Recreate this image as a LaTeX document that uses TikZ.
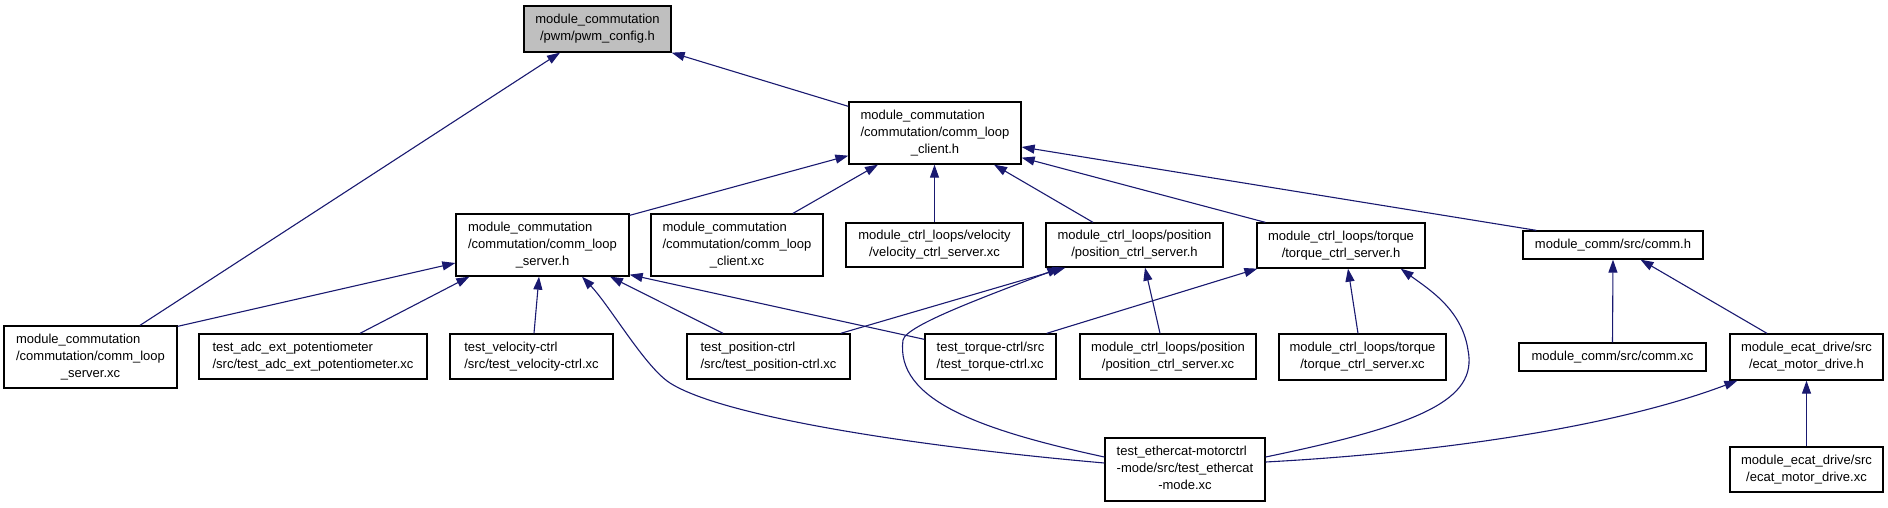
\documentclass[tikz,border=0pt]{standalone}
\usepackage{fontspec}
\setmainfont{Liberation Sans}
\usetikzlibrary{arrows.meta,calc}
\definecolor{edgeblue}{HTML}{191970}
\definecolor{pwmgray}{HTML}{BFBFBF}
\newcommand{\Lc}[1]{\begin{tabular}{@{}l@{}}#1\end{tabular}}
\newcommand{\Cc}[1]{\begin{tabular}{@{}c@{}}#1\end{tabular}}
\newcommand{\LLC}[3]{\begin{tabular}{@{}l@{}}#1\\#2\\\multicolumn{1}{@{}c@{}}{#3}\end{tabular}}
\tikzset{
  box/.style={draw=black, line width=1.3pt, fill=white, inner sep=0pt, text=black,
              font=\fontsize{13}{17}\selectfont},
  edge/.style={draw=edgeblue, line width=1.1pt, -{Triangle[length=13pt,width=9pt]}}
}
\begin{document}
\begin{tikzpicture}[x=1pt,y=-1pt]
\useasboundingbox (0,0) rectangle (1888,507);
% nodes
\node[box, fill=pwmgray, minimum width=147pt, minimum height=46pt] (pwm) at (597.5,29) {\Cc{module\_commutation\\/pwm/pwm\_config.h}};
\node[box, minimum width=172pt, minimum height=62pt] (clienth) at (935,133) {\LLC{module\_commutation}{/commutation/comm\_loop}{\_client.h}};
\node[box, minimum width=173pt, minimum height=62pt] (serverh) at (542.5,245) {\LLC{module\_commutation}{/commutation/comm\_loop}{\_server.h}};
\node[box, minimum width=172pt, minimum height=62pt] (clientxc) at (737,245) {\LLC{module\_commutation}{/commutation/comm\_loop}{\_client.xc}};
\node[box, minimum width=177pt, minimum height=44pt] (velsrv) at (934.5,245) {\Cc{module\_ctrl\_loops/velocity\\/velocity\_ctrl\_server.xc}};
\node[box, minimum width=177pt, minimum height=44pt] (possrvh) at (1134.5,245) {\Cc{module\_ctrl\_loops/position\\/position\_ctrl\_server.h}};
\node[box, minimum width=168pt, minimum height=45pt] (torsrvh) at (1341,245.5) {\Cc{module\_ctrl\_loops/torque\\/torque\_ctrl\_server.h}};
\node[box, minimum width=180pt, minimum height=28pt] (commh) at (1613,245) {\Cc{module\_comm/src/comm.h}};
\node[box, minimum width=173pt, minimum height=62pt] (serverxc) at (90.5,357) {\LLC{module\_commutation}{/commutation/comm\_loop}{\_server.xc}};
\node[box, minimum width=228pt, minimum height=45pt] (adc) at (313,356.5) {\Lc{test\_adc\_ext\_potentiometer\\/src/test\_adc\_ext\_potentiometer.xc}};
\node[box, minimum width=163pt, minimum height=45pt] (velctrl) at (531.5,356.5) {\Lc{test\_velocity-ctrl\\/src/test\_velocity-ctrl.xc}};
\node[box, minimum width=163pt, minimum height=45pt] (posctrl) at (768.5,356.5) {\Lc{test\_position-ctrl\\/src/test\_position-ctrl.xc}};
\node[box, minimum width=131pt, minimum height=45pt] (torctrl) at (990.5,356.5) {\Lc{test\_torque-ctrl/src\\/test\_torque-ctrl.xc}};
\node[box, minimum width=176pt, minimum height=45pt] (possrvxc) at (1168,356.5) {\Cc{module\_ctrl\_loops/position\\/position\_ctrl\_server.xc}};
\node[box, minimum width=167pt, minimum height=46pt] (torsrvxc) at (1362.5,357) {\Cc{module\_ctrl\_loops/torque\\/torque\_ctrl\_server.xc}};
\node[box, minimum width=187pt, minimum height=28pt] (commxc) at (1612.5,357) {\Cc{module\_comm/src/comm.xc}};
\node[box, minimum width=153pt, minimum height=46pt] (ecath) at (1806.5,357) {\Cc{module\_ecat\_drive/src\\/ecat\_motor\_drive.h}};
\node[box, minimum width=160pt, minimum height=63pt] (ethercat) at (1185,469.5) {\LLC{test\_ethercat-motorctrl}{-mode/src/test\_ethercat}{-mode.xc}};
\node[box, minimum width=153pt, minimum height=45pt] (ecatxc) at (1806.5,469.5) {\Cc{module\_ecat\_drive/src\\/ecat\_motor\_drive.xc}};
% edges
\draw[edge] ($(serverxc.north)+(49.5,0)$) -- ($(pwm.south)+(-37.5,0)$);
\draw[edge] ($(clienth.north west)+(0,5)$) -- (pwm.south east);
\draw[edge] ($(serverh.north east)+(0,2)$) -- ($(clienth.south west)+(0,-9)$);
\draw[edge] ($(clientxc.north)+(56,0)$) -- ($(clienth.south)+(-57,0)$);
\draw[edge] (velsrv.north) -- (velsrv.north |- clienth.south);
\draw[edge] ($(possrvh.north)+(-41.5,0)$) -- ($(clienth.south)+(59,0)$);
\draw[edge] ($(torsrvh.north west)+(9,0)$) -- ($(clienth.south east)+(0,-7)$);
\draw[edge] ($(commh.north west)+(14,0)$) -- ($(clienth.east)+(0,14)$);
\draw[edge] ($(serverxc.north east)+(0,1)$) -- ($(serverh.west)+(0,18)$);
\draw[edge] ($(adc.north)+(47,0)$) -- ($(serverh.south west)+(14,0)$);
\draw[edge] ($(velctrl.north)+(2.5,0)$) -- ($(serverh.south)+(-3.5,0)$);
\draw[edge] ($(ethercat.west)+(0,-6.5)$) .. controls (900,445) and (720,415) .. (670,383) .. controls (645,367) and (610,306) .. ($(serverh.south)+(39.5,0)$);
\draw[edge] ($(posctrl.north)+(-45.5,0)$) -- ($(serverh.south)+(67.5,0)$);
\draw[edge] ($(torctrl.north west)+(0,6)$) -- ($(serverh.south east)+(0,-2)$);
\draw[edge] ($(posctrl.north east)+(-10,0)$) -- ($(possrvh.south west)+(20,0)$);
\draw[edge] ($(ethercat.west)+(0,-12.5)$) .. controls (980,430) and (895,400) .. (903,340) .. controls (906,325) and (990,295) .. ($(possrvh.south west)+(15,0)$);
\draw[edge] ($(possrvxc.north)+(-8,0)$) -- ($(possrvh.south)+(10.5,0)$);
\draw[edge] ($(torctrl.north east)+(-10,0)$) -- ($(torsrvh.south west)+(1,0)$);
\draw[edge] ($(torsrvxc.north)+(-4.5,0)$) -- ($(torsrvh.south)+(7,0)$);
\draw[edge] ($(ethercat.east)+(0,-12.5)$) .. controls (1420,425) and (1478,400) .. (1468,350) .. controls (1462,310) and (1430,290) .. ($(torsrvh.south east)+(-25,0)$);
\draw[edge] (commxc.north) -- (commh.south);
\draw[edge] ($(ecath.north)+(-39.5,0)$) -- ($(commh.south)+(27.5,0)$);
\draw[edge] ($(ethercat.east)+(0,-7.5)$) .. controls (1450,452) and (1620,425) .. ($(ecath.south west)+(8,0)$);
\draw[edge] (ecatxc.north) -- (ecath.south);
\end{tikzpicture}
\end{document}
